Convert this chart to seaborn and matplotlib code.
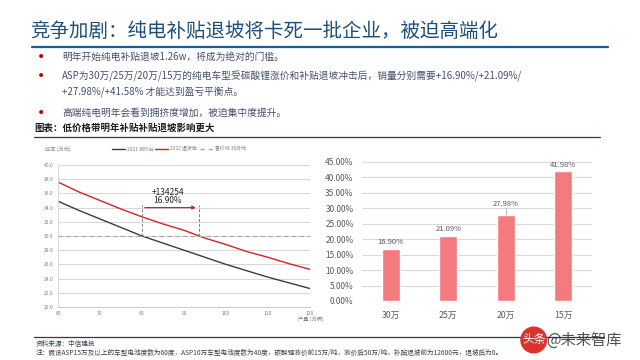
import matplotlib
matplotlib.use("Agg")
import matplotlib.pyplot as plt
import seaborn as sns
import pandas as pd
from matplotlib.lines import Line2D

sns.set_theme(style="white")
FONTS = ['Noto Sans CJK SC', 'DejaVu Sans']
plt.rcParams['font.family'] = FONTS
plt.rcParams['axes.unicode_minus'] = False

# ---------------- data ----------------
output_x = [60, 65, 70, 75, 80, 85, 90, 95, 100, 105, 110, 115, 120]
cost_before = [34.9, 33.6, 32.4, 31.2, 30.0, 29.0, 28.0, 27.0, 26.0, 25.1, 24.2, 23.4, 22.6]
cost_after = [37.6, 36.2, 35.0, 33.8, 32.7, 31.7, 30.8, 29.7, 28.8, 27.8, 27.0, 26.1, 25.3]
price_line = 30.0
line_names = ["2021 涨价前", "2022 退坡后", "售价线 30万元"]
arrow_start, arrow_end, arrow_y = 80, 93.5, 34.0
annot_lines = ["+134254", "16.90%"]

bar_cats = ["30万", "25万", "20万", "15万"]
bar_vals = [16.90, 21.09, 27.98, 41.98]

title = "竞争加剧：纯电补贴退坡将卡死一批企业，被迫高端化"
bullets = ["明年开始纯电补贴退坡1.26w，将成为绝对的门槛。",
           "ASP为30万/25万/20万/15万的纯电车型受碳酸锂涨价和补贴退坡冲击后，销量分别需要+16.90%/+21.09%/",
           "+27.98%/+41.58% 才能达到盈亏平衡点。",
           "高端纯电明年会看到拥挤度增加，被迫集中度提升。"]
fig_caption = "图表：低价格带明年补贴补贴退坡影响更大"
source = "资料来源：中信建投"
note = ("注：假设ASP15万及以上的车型电池度数为60度，ASP10万车型电池度数为40度，碳酸锂涨价前15万/吨，"
        "涨价后50万/吨，补贴退坡前为12600元，退坡后为0。")

W, H = 640, 360
fig = plt.figure(figsize=(6.4, 3.6), dpi=100)
fig.patch.set_facecolor("white")

def P(x, y):
    return (x / W, 1 - y / H)

def hline(y, x0, x1, color, lw):
    fig.add_artist(Line2D([x0 / W, x1 / W], [1 - y / H, 1 - y / H],
                          transform=fig.transFigure, color=color, lw=lw))

# ---------------- header ----------------
fig.text(*P(30, 31), title, fontsize=14, color="#1F4E79", va="center", ha="left", family=FONTS)
hline(47, 32, 608, "#1F5A8A", 1.6)

bul_y = [57, 76, 92, 113]
txt_col = "#44506E"
for i, (t, y) in enumerate(zip(bullets, bul_y)):
    if i != 2:
        fig.text(*P(37, y), "•", fontsize=10, color="#C00000", va="center", ha="left",
                 family=['DejaVu Sans'])
    fig.text(*P(62, y), t, fontsize=7, color=txt_col, va="center", ha="left", family=FONTS)

fig.text(*P(34, 128), fig_caption, fontsize=6.8, weight="bold", color="#1A1A1A",
         va="center", ha="left", family=FONTS)
hline(137, 34, 600, "#1F3F60", 0.9)

# ---------------- left chart ----------------
axL = fig.add_axes([58 / W, 1 - 307 / H, (310 - 58) / W, (307 - 165) / H])
df = pd.DataFrame({"产量": output_x * 2,
                   "成本": cost_before + cost_after,
                   "系列": [line_names[0]] * len(output_x) + [line_names[1]] * len(output_x)})
sns.lineplot(data=df, x="产量", y="成本", hue="系列",
             palette={line_names[0]: "#3C3C3C", line_names[1]: "#D9202A"},
             linewidth=1.0, ax=axL, legend=False)
axL.axhline(price_line, color="#A6A6A6", lw=0.8, ls=(0, (4, 3)))
axL.set_xlim(60, 120)
axL.set_ylim(20, 40)
axL.set_xticks(range(60, 121, 10))
axL.set_yticks(range(20, 41, 2))
axL.set_yticklabels([f"{v:.1f}" for v in range(20, 41, 2)])
axL.tick_params(labelsize=3.6, colors="#808080", length=0, pad=3)
axL.yaxis.grid(True, color="#D0D0D0", lw=0.6)
axL.xaxis.grid(False)
for s in ["top", "right"]:
    axL.spines[s].set_visible(False)
axL.spines["left"].set_color("#D0D0D0")
axL.spines["bottom"].set_color("#BFBFBF")
axL.spines["left"].set_linewidth(0.6)
axL.spines["bottom"].set_linewidth(0.6)
axL.set_xlabel("")
axL.set_ylabel("")
# annotation
for xv in (arrow_start, arrow_end):
    axL.plot([xv, xv], [price_line, arrow_y + 0.3], color="#7F7F7F", lw=0.7, ls=(0, (3, 2)))
axL.annotate("", xy=(arrow_end, arrow_y), xytext=(arrow_start, arrow_y),
             arrowprops=dict(arrowstyle="-|>", color="#C0282D", lw=0.9, mutation_scale=5))
axL.text(86.2, 36.1, annot_lines[0], fontsize=6, color="#262626", ha="center", va="center")
axL.text(86.2, 34.95, annot_lines[1], fontsize=6, color="#262626", ha="center", va="center")

fig.text(*P(45, 149), "成本 (万元)", fontsize=3.8, color="#808080", va="center", ha="left", family=FONTS)
fig.text(*P(298, 319), "产量 (万辆)", fontsize=3.8, color="#808080", va="center", ha="left", family=FONTS)
# legend
leg_items = [(112, "#3C3C3C", "-"), (155, "#D9202A", "-"), (200, "#A6A6A6", (0, (3, 3)))]
for (lx, c, ls), name in zip(leg_items, line_names):
    fig.add_artist(Line2D([lx / W, (lx + 13) / W], [1 - 149 / H] * 2, transform=fig.transFigure,
                          color=c, lw=1.0, ls=ls))
    fig.text(*P(lx + 15, 149), name, fontsize=3.5, color="#808080", va="center", ha="left", family=FONTS)

# ---------------- right chart ----------------
axR = fig.add_axes([362 / W, 1 - 301 / H, 230 / W, 139 / H])
dfb = pd.DataFrame({"cat": bar_cats, "val": bar_vals})
sns.barplot(data=dfb, x="cat", y="val", color="#F37B7D", width=0.32, saturation=1, ax=axR)
axR.set_ylim(0, 45)
axR.set_xlim(-0.5, 3.5)
axR.set_yticks(range(0, 46, 5))
axR.set_yticklabels([f"{v:.2f}%" for v in range(0, 46, 5)])
axR.yaxis.grid(True, color="#D9D9D9", lw=0.8)
axR.set_axisbelow(True)
for s in ["top", "right", "left", "bottom"]:
    axR.spines[s].set_visible(False)
axR.tick_params(axis="y", labelsize=6, colors="#595959", length=0, pad=6)
axR.tick_params(axis="x", labelsize=6.3, colors="#595959", length=0, pad=7)
for lab in axR.get_xticklabels():
    lab.set_family(FONTS)
axR.set_xlabel("")
axR.set_ylabel("")
for i, v in enumerate(bar_vals):
    off = 2.2 if i == 2 else 0.8
    axR.text(i, v + off, f"{v:.2f}%", ha="center", va="bottom", fontsize=5.5, color="#595959")
    if i == 2:
        axR.plot([i, i], [v, v + off], color="#A6A6A6", lw=0.5)

# ---------------- footer ----------------
hline(337, 34, 604, "#1F3F60", 0.9)
fig.text(*P(36, 344), source, fontsize=4.8, color="#404040", va="center", ha="left", family=FONTS)
fig.text(*P(36, 353), note, fontsize=4.8, color="#404040", va="center", ha="left", family=FONTS)
fig.text(*P(522, 340), "头条", fontsize=8.5, color="white", va="center", ha="left", family=FONTS,
         bbox=dict(boxstyle="circle,pad=0.15", fc="#E0322D", ec="none"))
fig.text(*P(546, 340), "@未来智库", fontsize=11, color="#333333", va="center", ha="left",
         family=FONTS, alpha=0.85)

fig.savefig("out.png", dpi=100, facecolor="white")
